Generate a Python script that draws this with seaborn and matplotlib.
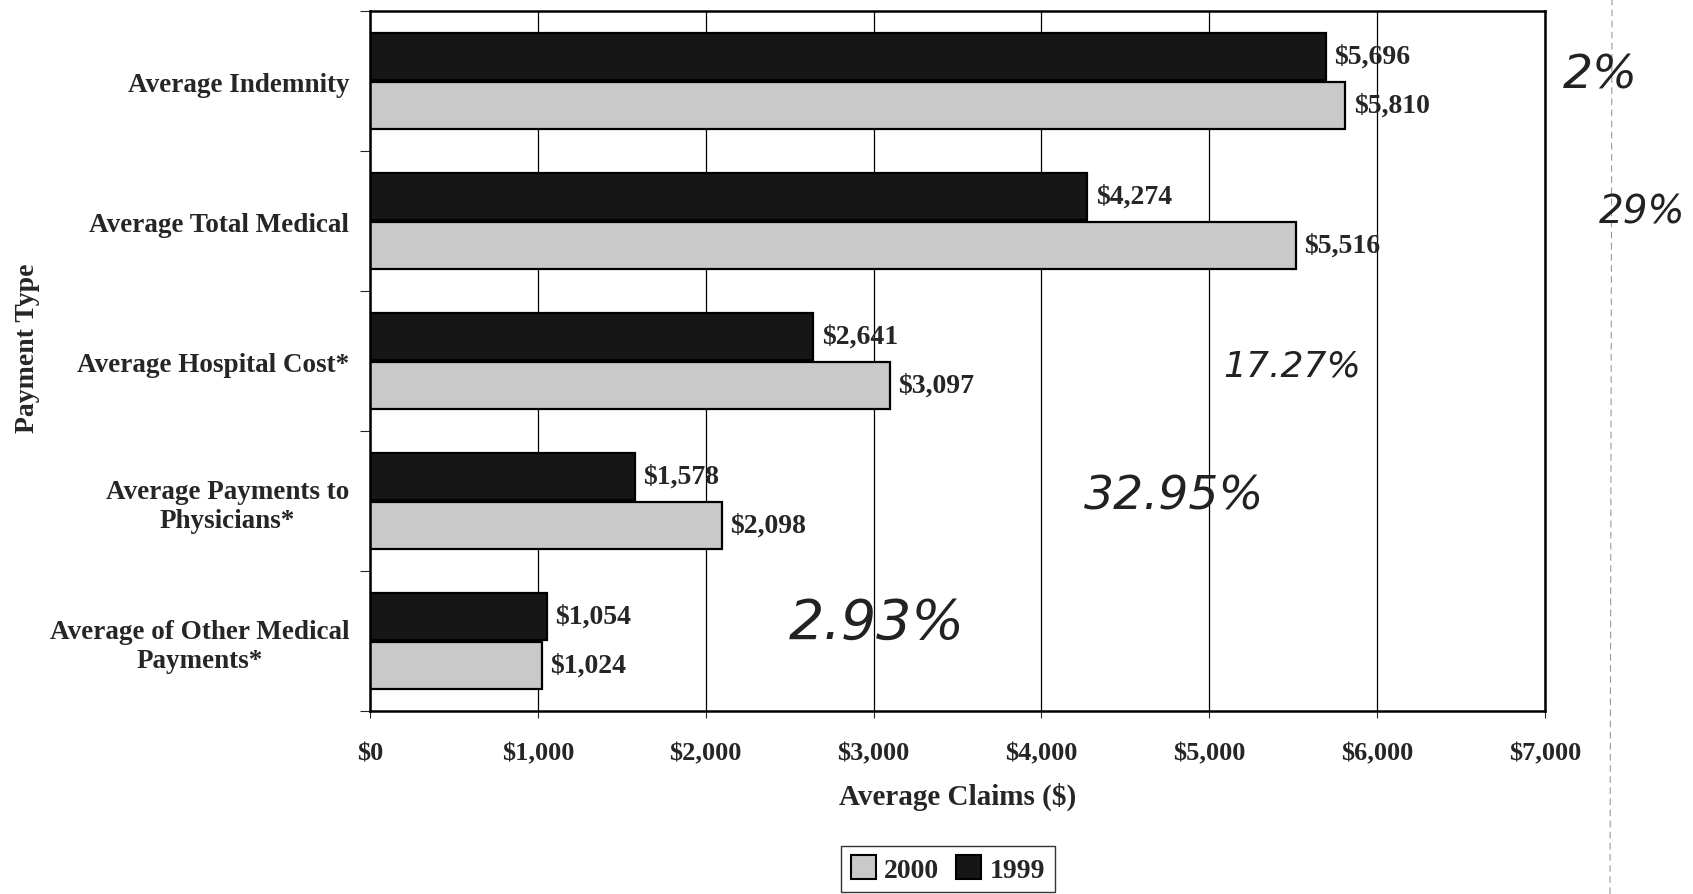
import seaborn as sns
import matplotlib.pyplot as plt
import pandas as pd
from matplotlib.patches import Patch

# --- DATA ---
payment_types = ['Average Indemnity', 'Average Total Medical', 'Average Hospital Cost*',
                 'Average Payments to\nPhysicians*', 'Average of Other Medical\nPayments*']
claims_1999 = [5696, 4274, 2641, 1578, 1054]
claims_2000 = [5810, 5516, 3097, 2098, 1024]
years = ['1999', '2000']
x_ticks = [0, 1000, 2000, 3000, 4000, 5000, 6000, 7000]

# handwritten notes on the scan (percent change)
notes = ['2%', '29%', '17.27%', '32.95%', '2.93%']
note_pos = [(1600, 76), (1642, 212), (1292, 367), (1174, 497), (877, 623)]
note_size = [34, 28, 26, 34, 40]

df = pd.DataFrame({
    'type': payment_types * 2,
    'year': ['1999'] * 5 + ['2000'] * 5,
    'value': claims_1999 + claims_2000,
})

sns.set_style('white')
plt.rcParams['font.family'] = ['Liberation Serif', 'DejaVu Serif']

W, H = 1693, 895
fig = plt.figure(figsize=(W / 100, H / 100), dpi=100)
ax = fig.add_axes([370 / W, 1 - 712 / H, (1545 - 370) / W, (712 - 12) / H])

palette = {'1999': '#161616', '2000': '#c9c9c9'}
sns.barplot(data=df, x='value', y='type', hue='year', hue_order=years,
            palette=palette, orient='h', width=0.7, gap=0.05,
            edgecolor='black', linewidth=1.6, saturation=1, ax=ax, legend=False)

# value labels
for cont, vals in zip(ax.containers, [claims_1999, claims_2000]):
    ax.bar_label(cont, labels=[f'${v:,}' for v in vals], padding=6,
                 fontsize=20, fontweight='bold')

ax.set_xlim(0, 7000)
ax.set_xticks(x_ticks)
ax.set_xticklabels([f'${v:,}' for v in x_ticks], fontsize=19, fontweight='bold')
ax.tick_params(axis='x', direction='out', length=5, width=0.8, pad=17, bottom=True)
ax.xaxis.grid(True, color='black', linewidth=0.9)
ax.set_axisbelow(True)

ax.set_yticks(range(len(payment_types)))
ax.set_yticklabels(payment_types, fontsize=19.5, fontweight='bold', multialignment='center')
ax.tick_params(axis='y', length=0, pad=15)
ax.set_yticks([i - 0.5 for i in range(len(payment_types) + 1)], minor=True)
ax.tick_params(axis='y', which='minor', direction='out', length=7, width=0.8, left=True)
ax.set_ylim(len(payment_types) - 0.5, -0.5)

for s in ax.spines.values():
    s.set_visible(True)
    s.set_color('black')
    s.set_linewidth(1.8)

ax.set_xlabel('Average Claims ($)', fontsize=21, fontweight='bold', labelpad=12)
ax.set_ylabel('Payment Type', fontsize=20, fontweight='bold')
ax.yaxis.set_label_coords(-0.281, 0.52)

# legend
handles = [Patch(facecolor=palette['2000'], edgecolor='black', linewidth=1.5),
           Patch(facecolor=palette['1999'], edgecolor='black', linewidth=1.5)]
fig.legend(handles, ['2000', '1999'], loc='center', bbox_to_anchor=(948 / W, 1 - 870 / H),
           ncol=2, frameon=True, fancybox=False, edgecolor='black', handlelength=0.9,
           handleheight=0.9, handletextpad=0.3, columnspacing=0.6, borderpad=0.35,
           prop={'size': 20, 'weight': 'bold'})

# handwritten notes
for t, (px, py), fs in zip(notes, note_pos, note_size):
    fig.text(px / W, 1 - py / H, t, fontsize=fs, fontstyle='italic', color='#222222',
             ha='center', va='center', family=['DejaVu Sans'], fontweight='light')

# faint fold line at the right of the scan
fig.add_artist(plt.Line2D([1610 / W, 1612 / W], [0, 1], color='#999999',
                          linewidth=0.8, linestyle=(0, (6, 4))))

fig.savefig('out.png', dpi=100, facecolor='white')
